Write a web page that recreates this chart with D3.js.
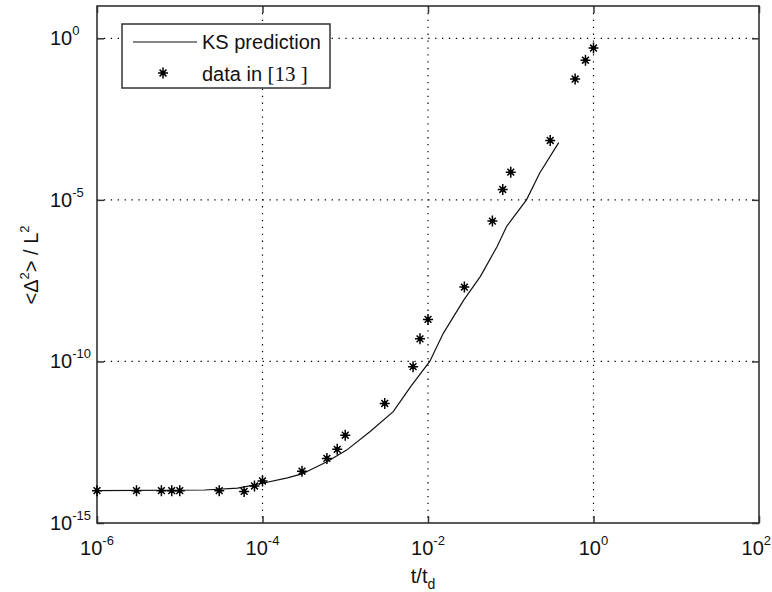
<!DOCTYPE html>
<html>
<head>
<meta charset="utf-8">
<script src="https://cdn.jsdelivr.net/npm/d3@7"></script>
<style>
  body { margin: 0; background: #fff; }
  svg { display: block; }
  text { font-family: "Liberation Sans", Arial, sans-serif; fill: #111; }
</style>
</head>
<body>
<svg id="chart" width="772" height="592"></svg>
<script>
// ---- data ----
const lineT = [1e-6, 2e-5, 5e-5, 1e-4, 2e-4, 3e-4, 6e-4, 1.04e-3, 2e-3, 3.8e-3, 6.2e-3, 1.05e-2, 1.53e-2, 2.7e-2, 4.3e-2, 6.8e-2, 8.9e-2, 0.155, 0.224, 0.38];
const lineY = [1e-14, 1.05e-14, 1.2e-14, 1.7e-14, 2.5e-14, 3.3e-14, 7.9e-14, 1.8e-13, 6.8e-13, 2.8e-12, 1.7e-11, 1e-10, 7.4e-10, 7.9e-9, 4.3e-8, 3.5e-7, 1.5e-6, 1e-5, 6.8e-5, 5.9e-4];

const dataT = [1e-6, 3e-6, 6e-6, 8e-6, 1e-5, 3e-5, 6e-5, 8e-5, 1e-4, 3e-4, 6e-4, 8e-4, 1e-3, 3e-3, 6.6e-3, 8e-3, 1e-2, 2.75e-2, 6e-2, 8e-2, 0.1, 0.3, 0.6, 0.8, 1];
const dataY = [1e-14, 1e-14, 1e-14, 1e-14, 1e-14, 1e-14, 9.5e-15, 1.4e-14, 2e-14, 4e-14, 1e-13, 1.9e-13, 5.2e-13, 5e-12, 6.9e-11, 5e-10, 2e-9, 2e-8, 2.2e-6, 2.1e-5, 7.2e-5, 6.9e-4, 5.5e-2, 0.21, 0.5];

const xTickVals = [1e-6, 1e-4, 1e-2, 1e0, 1e2];
const xTickExp = ["-6", "-4", "-2", "0", "2"];
const yTickVals = [1e-15, 1e-10, 1e-5, 1e0];
const yTickExp = ["-15", "-10", "-5", "0"];
const legendLabels = ["KS prediction", "data in "];

// ---- layout ----
const L = 97, R = 759, T = 6, B = 523;
const svg = d3.select("#chart");
const x = d3.scaleLog().domain([1e-6, 1e2]).range([L, R]);
const y = d3.scaleLog().domain([1e-15, 1e1]).range([B, T]);

// grid (dotted)
const grid = svg.append("g").attr("stroke", "#000").attr("stroke-width", 1.2).attr("stroke-dasharray", "1.3,5.6");
xTickVals.slice(1, -1).forEach(v => {
  grid.append("line").attr("x1", x(v)).attr("x2", x(v)).attr("y1", T).attr("y2", B);
});
yTickVals.slice(1).forEach(v => {
  grid.append("line").attr("x1", L).attr("x2", R).attr("y1", y(v)).attr("y2", y(v));
});

// axes using d3 axis generators (ticks inward, no labels)
const tk = 7;
const axB = d3.axisBottom(x).tickValues(xTickVals).tickSizeInner(-tk).tickSizeOuter(0).tickFormat("");
const axT = d3.axisTop(x).tickValues(xTickVals).tickSizeInner(-tk).tickSizeOuter(0).tickFormat("");
const axLf = d3.axisLeft(y).tickValues(yTickVals).tickSizeInner(-tk).tickSizeOuter(0).tickFormat("");
const axRt = d3.axisRight(y).tickValues(yTickVals).tickSizeInner(-tk).tickSizeOuter(0).tickFormat("");
[[axB, `translate(0,${B})`], [axT, `translate(0,${T})`], [axLf, `translate(${L},0)`], [axRt, `translate(${R},0)`]].forEach(([ax, tr]) => {
  const g = svg.append("g").attr("transform", tr).call(ax);
  g.select(".domain").remove();
  g.selectAll("line").attr("stroke", "#333").attr("stroke-width", 1.5);
});

// frame
svg.append("rect").attr("x", L).attr("y", T).attr("width", R - L).attr("height", B - T)
  .attr("fill", "none").attr("stroke", "#333").attr("stroke-width", 1.6);

// tick labels
xTickVals.forEach((v, i) => {
  const last = i === xTickVals.length - 1;
  const t = svg.append("text").attr("x", last ? 771 : x(v)).attr("y", 555)
    .attr("text-anchor", last ? "end" : "middle").attr("font-size", 20);
  t.append("tspan").text("10");
  t.append("tspan").attr("font-size", 13).attr("dy", -10).text(xTickExp[i]);
});
yTickVals.forEach((v, i) => {
  const t = svg.append("text").attr("x", 50).attr("y", y(v) + 7).attr("text-anchor", "start").attr("font-size", 20);
  t.append("tspan").text("10");
  t.append("tspan").attr("font-size", 13).attr("dy", -10).text(yTickExp[i]);
});

// axis titles
const xl = svg.append("text").attr("x", 423).attr("y", 583).attr("text-anchor", "middle").attr("font-size", 20);
xl.append("tspan").text("t/t");
xl.append("tspan").attr("font-size", 14).attr("dy", 6).text("d");

const yl = svg.append("text").attr("transform", "translate(38,265) rotate(-90)").attr("text-anchor", "middle").attr("font-size", 20);
yl.append("tspan").text("<Δ");
yl.append("tspan").attr("font-size", 13).attr("dy", -9).text("2");
yl.append("tspan").attr("dy", 9).text("> / L");
yl.append("tspan").attr("font-size", 13).attr("dy", -9).text("2");

// KS line
const line = d3.line().x((d, i) => x(lineT[i])).y((d, i) => y(lineY[i]));
svg.append("path").datum(lineT).attr("d", line).attr("fill", "none").attr("stroke", "#111").attr("stroke-width", 1.2);

// star marker
function star(g, cx, cy) {
  const sx = 5, sy = 5.5, d = 3.4;
  const p = `M${cx - sx},${cy}L${cx + sx},${cy}M${cx},${cy - sy}L${cx},${cy + sy}` +
            `M${cx - d},${cy - d}L${cx + d},${cy + d}M${cx - d},${cy + d}L${cx + d},${cy - d}`;
  g.append("path").attr("d", p).attr("stroke", "#000").attr("stroke-width", 1.5).attr("fill", "none");
  g.append("circle").attr("cx", cx).attr("cy", cy).attr("r", 2.3).attr("fill", "#000");
}
const pts = svg.append("g");
dataT.forEach((t, i) => star(pts, x(t), y(dataY[i])));

// legend
const lg = svg.append("g");
lg.append("rect").attr("x", 122).attr("y", 24).attr("width", 208).attr("height", 64)
  .attr("fill", "#fff").attr("stroke", "#333").attr("stroke-width", 1.5);
lg.append("line").attr("x1", 133).attr("x2", 197).attr("y1", 42).attr("y2", 42).attr("stroke", "#111").attr("stroke-width", 1.2);
lg.append("text").attr("x", 202).attr("y", 49).attr("font-size", 20).text(legendLabels[0]);
star(lg, 163, 73);
const lt = lg.append("text").attr("x", 202).attr("y", 81).attr("font-size", 20);
lt.append("tspan").text(legendLabels[1]);
lt.append("tspan").attr("font-family", "Liberation Serif, Times New Roman, serif").attr("font-size", 21).text("[13 ]");
</script>
</body>
</html>
